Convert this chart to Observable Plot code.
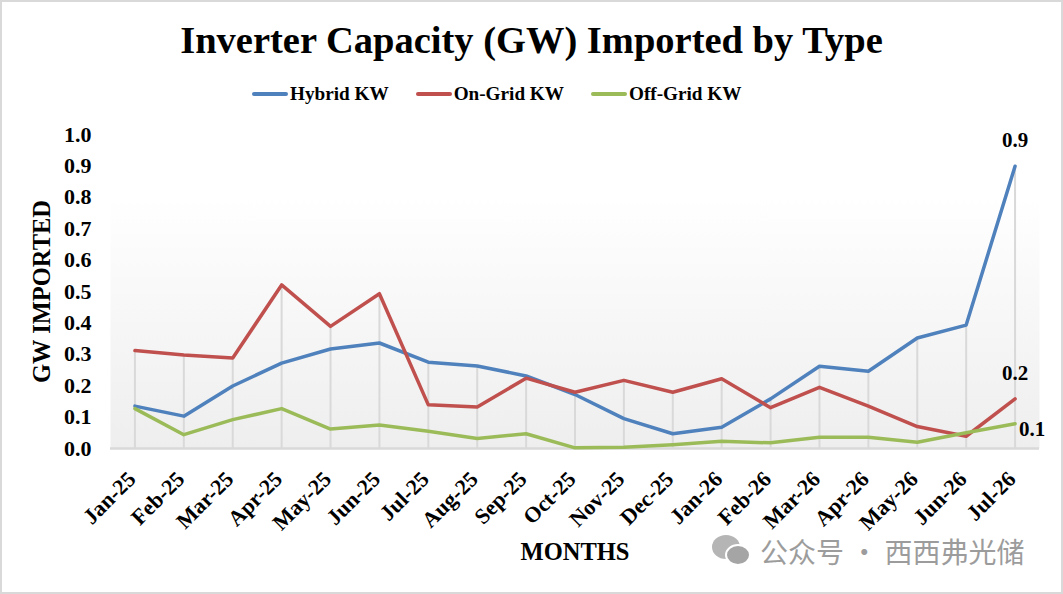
<!DOCTYPE html>
<html>
<head>
<meta charset="utf-8">
<script src="https://cdn.jsdelivr.net/npm/d3@7"></script>
<script src="https://cdn.jsdelivr.net/npm/@observablehq/plot@0.6"></script>
<style>
  body { margin: 0; background: #fff; }
  #wrap { position: relative; width: 1063px; height: 594px; overflow: hidden; background: #fff;
          font-family: "Liberation Serif", "Times New Roman", serif; font-weight: bold; color: #000; }
  #border { position: absolute; inset: 0; border: 2px solid #d9d9d9; box-sizing: border-box; pointer-events: none; z-index: 5; }
  #title { position: absolute; left: 0; top: 21px; width: 1063px; text-align: center; font-size: 38.5px; line-height: 38px; }
  #legend { position: absolute; left: 252px; top: 84px; display: flex; align-items: center; font-size: 19.2px; line-height: 19px; }
  .item { display: flex; align-items: center; margin-right: 27px; }
  .sw { width: 36px; height: 4px; margin-right: 2px; border-radius: 2px; }
  #chart { position: absolute; left: 0; top: 110px; }
  #chart svg { overflow: visible; }
  #wm { position: absolute; left: 710px; top: 533px; display: flex; align-items: center; color: #9c9c9c;
        font-family: "Noto Sans CJK SC", sans-serif; font-weight: normal; font-size: 28px; line-height: 36px; z-index: 4; }
</style>
</head>
<body>
<div id="wrap">
  <div id="title">Inverter Capacity (GW) Imported by Type</div>
  <div id="legend"></div>
  <div id="chart"></div>
  <div id="wm">
    <svg width="44" height="36" viewBox="0 0 44 36" style="margin-right:6px">
      <ellipse cx="16" cy="14" rx="14" ry="12" fill="#b5b5b5"/>
      <ellipse cx="28" cy="22" rx="12" ry="10" fill="#a5a5a5" stroke="#fff" stroke-width="2"/>
    </svg>
    <span>公众号 · 西西弗光储</span>
  </div>
  <div id="border"></div>
</div>
<script>
const months = ["Jan-25","Feb-25","Mar-25","Apr-25","May-25","Jun-25","Jul-25","Aug-25","Sep-25","Oct-25","Nov-25","Dec-25",
                "Jan-26","Feb-26","Mar-26","Apr-26","May-26","Jun-26","Jul-26"];
const hybrid  = [0.135, 0.103, 0.199, 0.272, 0.317, 0.336, 0.275, 0.263, 0.231, 0.172, 0.095, 0.047, 0.068, 0.158, 0.262, 0.246, 0.352, 0.393, 0.899];
const onGrid  = [0.312, 0.298, 0.288, 0.521, 0.389, 0.493, 0.139, 0.132, 0.224, 0.179, 0.217, 0.179, 0.222, 0.130, 0.195, 0.135, 0.070, 0.039, 0.158];
const offGrid = [0.127, 0.044, 0.092, 0.127, 0.062, 0.075, 0.055, 0.032, 0.047, 0.002, 0.004, 0.012, 0.023, 0.018, 0.036, 0.036, 0.020, 0.050, 0.079];
const seriesNames = ["Hybrid KW", "On-Grid KW", "Off-Grid KW"];
const seriesColors = ["#4f81bd", "#c0504d", "#9bbb59"];
const yTicks = [0, 0.1, 0.2, 0.3, 0.4, 0.5, 0.6, 0.7, 0.8, 0.9, 1.0];
const xTitle = "MONTHS";
const yTitle = "GW IMPORTED";

const seriesValues = [hybrid, onGrid, offGrid];
const rows = seriesNames.flatMap((s, k) => months.map((m, i) => ({month: m, value: seriesValues[k][i], series: s})));
const maxRows = months.map((m, i) => ({month: m, max: Math.max(hybrid[i], onGrid[i], offGrid[i])}));
const last = months.length - 1;
const lastOf = k => [{month: months[last], value: seriesValues[k][last], series: seriesNames[k]}];
const fmt = d3.format(".1f");

// legend
const legend = document.getElementById("legend");
seriesNames.forEach((n, k) => {
  const it = document.createElement("div"); it.className = "item";
  const sw = document.createElement("div"); sw.className = "sw"; sw.style.background = seriesColors[k];
  const tx = document.createElement("span"); tx.textContent = n;
  it.appendChild(sw); it.appendChild(tx); legend.appendChild(it);
});

const chart = Plot.plot({
  width: 1063, height: 484,
  marginTop: 24, marginBottom: 146, marginLeft: 110, marginRight: 24,
  style: {fontFamily: "'Liberation Serif', 'Times New Roman', serif", fontWeight: "bold", color: "#000", background: "transparent"},
  x: {type: "point", domain: months, padding: 0.5, round: false, label: null},
  y: {domain: [0, 1], label: null},
  color: {domain: seriesNames, range: seriesColors},
  marks: [
    Plot.frame({fill: "url(#bgGrad)", stroke: null}),
    Plot.ruleX(maxRows, {x: "month", y1: 0, y2: "max", stroke: "#d9d9d9", strokeWidth: 2}),
    Plot.ruleY([0], {stroke: "#d9d9d9", strokeWidth: 2.5}),
    Plot.axisY(yTicks, {tickSize: 0, tickPadding: 19, tickFormat: ".1f", fontSize: 22, label: null}),
    Plot.axisX({tickSize: 0, tickPadding: 27, tickRotate: -45, fontSize: 22, dx: -3, label: null}),
    Plot.line(rows, {x: "month", y: "value", z: "series", stroke: "series", strokeWidth: 3.5, strokeLinejoin: "round"}),
    Plot.text(lastOf(0), {x: "month", y: "value", text: d => fmt(d.value), dy: -26, fontSize: 21}),
    Plot.text(lastOf(1), {x: "month", y: "value", text: d => fmt(d.value), dy: -26, fontSize: 21}),
    Plot.text(lastOf(2), {x: "month", y: "value", text: d => fmt(d.value), dx: 4, dy: 6, textAnchor: "start", fontSize: 21}),
    Plot.text([yTitle], {frameAnchor: "left", dx: -68, rotate: -90, textAnchor: "middle", fontSize: 24.5}),
    Plot.text([xTitle], {frameAnchor: "bottom", dy: 111, fontSize: 24.5})
  ]
});
const defs = d3.select(chart).insert("defs", ":first-child");
const g = defs.append("linearGradient").attr("id", "bgGrad").attr("x1", 0).attr("y1", 0).attr("x2", 0).attr("y2", 1);
g.append("stop").attr("offset", "0%").attr("stop-color", "#ffffff");
g.append("stop").attr("offset", "20%").attr("stop-color", "#ffffff");
g.append("stop").attr("offset", "100%").attr("stop-color", "#eeeeee");
document.getElementById("chart").appendChild(chart);
</script>
</body>
</html>
